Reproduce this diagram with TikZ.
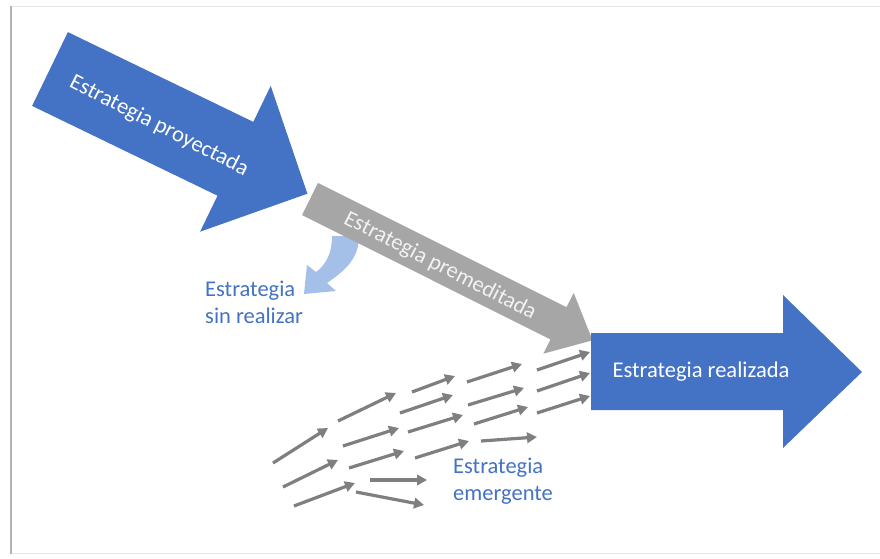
\documentclass[tikz,border=0pt]{standalone}
\usepackage{fontspec}
\setmainfont{Carlito}
\usetikzlibrary{arrows.meta}
\definecolor{mainblue}{HTML}{4472C4}
\definecolor{paleblue}{HTML}{A4C0E8}
\definecolor{plangray}{HTML}{A6A6A6}
\definecolor{driftgray}{HTML}{7F7F7F}
\definecolor{softwhite}{HTML}{F2F2F2}
\begin{document}
\begin{tikzpicture}[x=1pt,y=-1pt,
  txt/.style={font=\fontsize{22.5}{26.5}\selectfont, inner sep=0pt},
  bluetxt/.style={txt, text=mainblue, align=left, anchor=base west},
  drift/.style={draw=driftgray, line width=3.2pt, -{Triangle[length=10pt,width=10.5pt]}},
]
\useasboundingbox (0,0) rectangle (880,559);
\fill[white] (0,0) rectangle (880,559);

% page frame with a soft shadow on the left
\draw[black!10, line width=1pt] (11,6.5) -- (880,6.5);
\draw[black!10, line width=1pt] (11,553.5) -- (880,553.5);
\draw[black!30, line width=2pt] (11,6) -- (11,554);

% projected strategy (big blue arrow, pointing down-right)
\fill[mainblue] (67.9,32.1) -- (253.3,121.9) -- (270.7,85.9) -- (307.4,193.7)
  -- (200.1,231.7) -- (217.5,195.7) -- (32.1,105.9) -- cycle;
\node[txt, text=white, rotate=-27] (proj) at (159,126) {Estrategia proyectada};

% unrealized strategy: curved pale arrow branching off
\fill[paleblue] (332,236) .. controls (332,252) and (327,264) .. (316,272)
  -- (307,265) -- (304,294) -- (336,291) -- (327,283)
  .. controls (346,270) and (359,258) .. (359,236) -- cycle;
% base anchor of a multi-line node sits on its last line
\node[bluetxt] (unreal) at (205,323) {Estrategia\\sin realizar};

% deliberate strategy (grey arrow)
\fill[plangray] (318,182.9) -- (566.5,307.2) -- (573.7,292.9) -- (592.5,340.3)
  -- (543.3,353.7) -- (550.5,339.4) -- (302,215.1) -- cycle;
\node[txt, text=softwhite, rotate=-27] (delib) at (440,266) {Estrategia premeditada};

% realized strategy (blue arrow pointing right)
\fill[mainblue] (591,333) -- (783,333) -- (783,295) -- (862,372) -- (783,448)
  -- (783,410) -- (591,410) -- cycle;
\node[txt, text=white] (real) at (701,372) {Estrategia realizada};

% emergent strategy: scattered small arrows
\foreach \ax/\ay/\bx/\by in {
  273/463/328/428, 338/421/396/393, 412/392/455/376, 467/382/522/364, 537/370/590/352,
  283/487/338/460, 343/446/399/428, 400/413/453/395, 468/405/524/388, 537/391/590/373,
  294/506/355/483, 349/468/404/451, 408/432/463/415, 474/424/528/407, 537/413/590/396,
  370/480/427/480, 356/492/424/505, 415/458/469/441, 481/441/537/437}
  \draw[drift] (\ax,\ay) -- (\bx,\by);
\node[bluetxt] (emerg) at (453,500) {Estrategia\\emergente};
\end{tikzpicture}
\end{document}
